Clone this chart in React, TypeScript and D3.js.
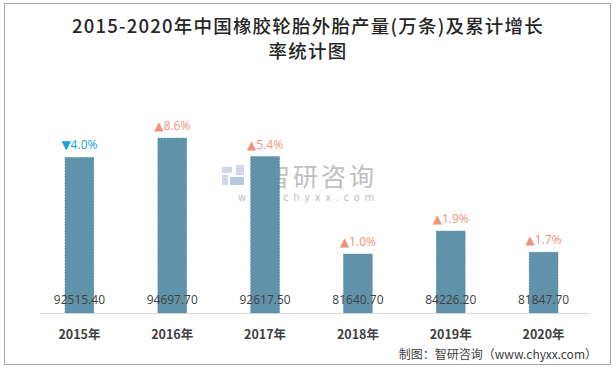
import { useEffect, useRef } from 'react';
import * as d3 from 'd3';

const years = ['2015年', '2016年', '2017年', '2018年', '2019年', '2020年'];
const output = [92515.4, 94697.7, 92617.5, 81640.7, 84226.2, 81847.7];
const growth = [-4.0, 8.6, 5.4, 1.0, 1.9, 1.7];
const titleLines = ['2015-2020年中国橡胶轮胎外胎产量(万条)及累计增长', '率统计图'];

const W = 616;
const H = 368;

const App = () => {
  const ref = useRef<SVGSVGElement | null>(null);

  useEffect(() => {
    document.body.style.margin = '0';
    const svg = d3.select(ref.current);
    svg.selectAll('*').remove();

    // frame
    svg
      .append('rect')
      .attr('x', 4.5)
      .attr('y', 3.5)
      .attr('width', 606)
      .attr('height', 361)
      .attr('fill', '#fff')
      .attr('stroke', '#a6a6a6');

    // title, one text per line
    svg
      .append('g')
      .selectAll('text')
      .data(titleLines)
      .join('text')
      .attr('x', 308)
      .attr('y', (d, i) => 33 + i * 25)
      .attr('text-anchor', 'middle')
      .attr('fill', '#262626')
      .attr('font-family', '"Noto Sans CJK SC", sans-serif')
      .attr('font-size', 18.5)
      .attr('font-weight', 500)
      .attr('letter-spacing', 1.2)
      .text((d) => d);

    const x = d3
      .scaleBand()
      .domain(years)
      .range([33, 590])
      .paddingInner(0.69)
      .paddingOuter(0.345);

    const y = d3.scaleLinear().domain([75000, 100000]).range([313, 91]);

    // watermark
    const wm = svg.append('g').attr('opacity', 0.55);
    wm.append('rect').attr('x', 222).attr('y', 167).attr('width', 10).attr('height', 6).attr('fill', '#a9b8d6');
    wm.append('rect').attr('x', 222).attr('y', 175).attr('width', 6).attr('height', 10).attr('fill', '#a9b8d6');
    wm.append('rect').attr('x', 230).attr('y', 177).attr('width', 14).attr('height', 8).attr('fill', '#7f9ccc');
    wm.append('rect').attr('x', 236).attr('y', 165).attr('width', 8).attr('height', 10).attr('fill', '#a9b8d6');
    wm.append('text')
      .attr('x', 265)
      .attr('y', 186)
      .attr('font-family', '"Noto Sans CJK SC", sans-serif')
      .attr('font-size', 25)
      .attr('letter-spacing', 3)
      .attr('fill', '#8c8c8c')
      .text('智研咨询');
    wm.append('text')
      .attr('x', 238)
      .attr('y', 201)
      .attr('font-family', '"DejaVu Sans", sans-serif')
      .attr('font-size', 10)
      .attr('letter-spacing', 4.6)
      .attr('fill', '#8c8c8c')
      .text('www.chyxx.com');

    // bars
    svg
      .append('g')
      .selectAll('rect')
      .data(output)
      .join('rect')
      .attr('x', (d, i) => x(years[i]) as number)
      .attr('y', (d) => y(d))
      .attr('width', x.bandwidth())
      .attr('height', (d) => y(75000) - y(d))
      .attr('fill', '#5b8fa7')
      .attr('fill-opacity', 0.97)
      .attr('stroke', '#4f8199')
      .attr('stroke-width', 0.6)
      .attr('stroke-dasharray', '2,1');

    // axis line
    svg
      .append('line')
      .attr('x1', 40)
      .attr('x2', 590)
      .attr('y1', 313.5)
      .attr('y2', 313.5)
      .attr('stroke', '#d9d9d9')
      .attr('stroke-width', 1);

    // value labels
    svg
      .append('g')
      .selectAll('text')
      .data(output)
      .join('text')
      .attr('x', (d, i) => (x(years[i]) as number) + x.bandwidth() / 2)
      .attr('y', 304)
      .attr('text-anchor', 'middle')
      .attr('font-family', '"Open Sans", "Noto Sans", sans-serif')
      .attr('font-size', 12)
      .attr('fill', '#404040')
      .text((d) => d.toFixed(2));

    // growth labels
    svg
      .append('g')
      .selectAll('text')
      .data(growth)
      .join('text')
      .attr('x', (d, i) => (x(years[i]) as number) + x.bandwidth() / 2)
      .attr('y', (d, i) => y(output[i]) - 8)
      .attr('text-anchor', 'middle')
      .attr('font-family', '"Open Sans", "DejaVu Sans", sans-serif')
      .attr('font-size', 12)
      .attr('fill', (d) => (d < 0 ? '#1a9fd9' : '#f1937a'))
      .text((d) => (d < 0 ? '▼' : '▲') + Math.abs(d).toFixed(1) + '%');

    // x labels
    svg
      .append('g')
      .selectAll('text')
      .data(years)
      .join('text')
      .attr('x', (d) => (x(d) as number) + x.bandwidth() / 2)
      .attr('y', 339)
      .attr('text-anchor', 'middle')
      .attr('font-family', '"Noto Sans CJK SC", sans-serif')
      .attr('font-size', 12.5)
      .attr('font-weight', 700)
      .attr('fill', '#404040')
      .text((d) => d);

    // source
    svg
      .append('text')
      .attr('x', 597)
      .attr('y', 359)
      .attr('text-anchor', 'end')
      .attr('font-family', '"Noto Sans CJK SC", sans-serif')
      .attr('font-size', 12)
      .attr('fill', '#404040')
      .text('制图：智研咨询（www.chyxx.com）');
  }, []);

  return <svg ref={ref} width={W} height={H} style={{ display: 'block' }} />;
};

export default App;
